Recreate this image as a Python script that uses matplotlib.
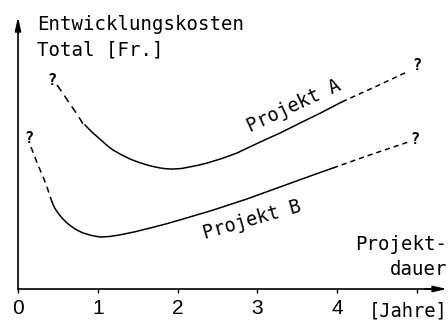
#!/usr/bin/env python
import matplotlib.pyplot as plt

# pixel -> data: x = (px-18)/79.75 years, y = (289-py)/27.2 cost units
# Projekt A
a_dash1_x = [0.489, 0.577, 0.652, 0.740, 0.815, 0.840]
a_dash1_y = [7.50, 7.13, 6.80, 6.43, 6.07, 6.03]
a_x = [0.840, 0.930, 1.028, 1.108, 1.191, 1.300, 1.404, 1.510, 1.618, 1.700, 1.781,
       1.860, 1.944, 2.050, 2.157, 2.260, 2.370, 2.560, 2.746, 3.034, 3.290, 3.536, 3.800, 4.063]
a_y = [6.03, 5.76, 5.51, 5.30, 5.11, 4.93, 4.78, 4.66, 4.56, 4.50, 4.45,
       4.42, 4.41, 4.43, 4.49, 4.55, 4.63, 4.80, 5.00, 5.40, 5.74, 6.10, 6.48, 6.88]
a_dash2_x = [4.063, 4.476, 4.878]
a_dash2_y = [6.88, 7.43, 7.98]

# Projekt B
b_dash1_x = [0.163, 0.226, 0.288, 0.351, 0.401, 0.426]
b_dash1_y = [5.22, 4.74, 4.30, 3.86, 3.42, 3.20]
b_x = [0.426, 0.460, 0.502, 0.555, 0.614, 0.665, 0.715, 0.765, 0.815, 0.920, 1.028,
       1.150, 1.279, 1.460, 1.655, 1.840, 2.031, 2.445, 2.871, 3.285, 3.699, 3.950]
b_y = [3.20, 2.98, 2.79, 2.60, 2.43, 2.31, 2.21, 2.13, 2.06, 1.97, 1.91,
       1.93, 1.99, 2.10, 2.24, 2.38, 2.54, 2.90, 3.31, 3.75, 4.19, 4.45]
b_dash2_x = [3.950, 4.414, 4.890]
b_dash2_y = [4.45, 4.93, 5.40]

xticks = [0, 1, 2, 3, 4, 5]
xticklabels = ["0", "1", "2", "3", "4", ""]

mono = "DejaVu Sans Mono"
digits = ["Liberation Sans Narrow", "Liberation Sans", "DejaVu Sans"]

fig = plt.figure(figsize=(4.48, 3.2), dpi=100)
ax = fig.add_axes([0, 0, 1, 1])
ax.set_xlim(-18 / 79.75, 430 / 79.75)
ax.set_ylim(-31 / 27.2, 289 / 27.2)

lw = 1.1
dash = (0, (3.4, 2.6))
ax.plot(a_x, a_y, color="black", lw=lw)
ax.plot(a_dash1_x, a_dash1_y, color="black", lw=lw, linestyle=(0, (5, 3.5)))
ax.plot(a_dash2_x, a_dash2_y, color="black", lw=lw, linestyle=dash)
ax.plot(b_x, b_y, color="black", lw=lw)
ax.plot(b_dash1_x, b_dash1_y, color="black", lw=lw, linestyle=(0, (4, 3)))
ax.plot(b_dash2_x, b_dash2_y, color="black", lw=lw, linestyle=dash)

# question marks
qkw = dict(fontsize=11, fontweight="bold", family=mono, ha="center", va="center")
ax.text(0.426, 7.68, "?", **qkw)
ax.text(5.00, 8.20, "?", **qkw)
ax.text(0.138, 5.55, "?", **qkw)
ax.text(4.98, 5.51, "?", **qkw)

# curve labels
ax.text(3.46, 6.74, "Projekt A", family=mono, fontsize=13.5, rotation=25,
        rotation_mode="anchor", ha="center", va="center")
ax.text(2.94, 2.55, "Projekt B", family=mono, fontsize=13.5, rotation=16,
        rotation_mode="anchor", ha="center", va="center")

# axis titles
ax.text(0.238, 9.52, "Entwicklungskosten", family=mono, fontsize=13.7, va="baseline")
ax.text(0.238, 8.60, "Total [Fr.]", family=mono, fontsize=13.7, va="baseline")
ax.text(5.38, 1.43, "Projekt-", family=mono, fontsize=13.7, va="baseline", ha="right")
ax.text(5.38, 0.51, "dauer", family=mono, fontsize=13.7, va="baseline", ha="right")
ax.text(5.38, -0.82, "[Jahre]", family=mono, fontsize=13.5, va="center", ha="right")

# axes
for s in ["top", "right"]:
    ax.spines[s].set_visible(False)
ax.spines["left"].set_position(("data", 0))
ax.spines["bottom"].set_position(("data", 0))
ax.spines["left"].set_bounds(0, 9.6)
ax.spines["bottom"].set_bounds(0, 5.2)
ax.spines["left"].set_linewidth(1.2)
ax.spines["bottom"].set_linewidth(1.2)
ax.annotate("", xy=(0, 10.0), xytext=(0, 9.4),
            arrowprops=dict(arrowstyle="-|>,head_length=0.8,head_width=0.18",
                            color="black", lw=1.2, shrinkA=0, shrinkB=0))
ax.annotate("", xy=(5.38, 0), xytext=(5.1, 0),
            arrowprops=dict(arrowstyle="-|>,head_length=0.8,head_width=0.18",
                            color="black", lw=1.2, shrinkA=0, shrinkB=0))

ax.set_xticks(xticks)
ax.set_xticklabels(xticklabels, family=digits, fontsize=15)
ax.tick_params(axis="x", direction="out", length=3, width=1, pad=4)
ax.set_yticks([])

fig.savefig("out.png", dpi=100)
